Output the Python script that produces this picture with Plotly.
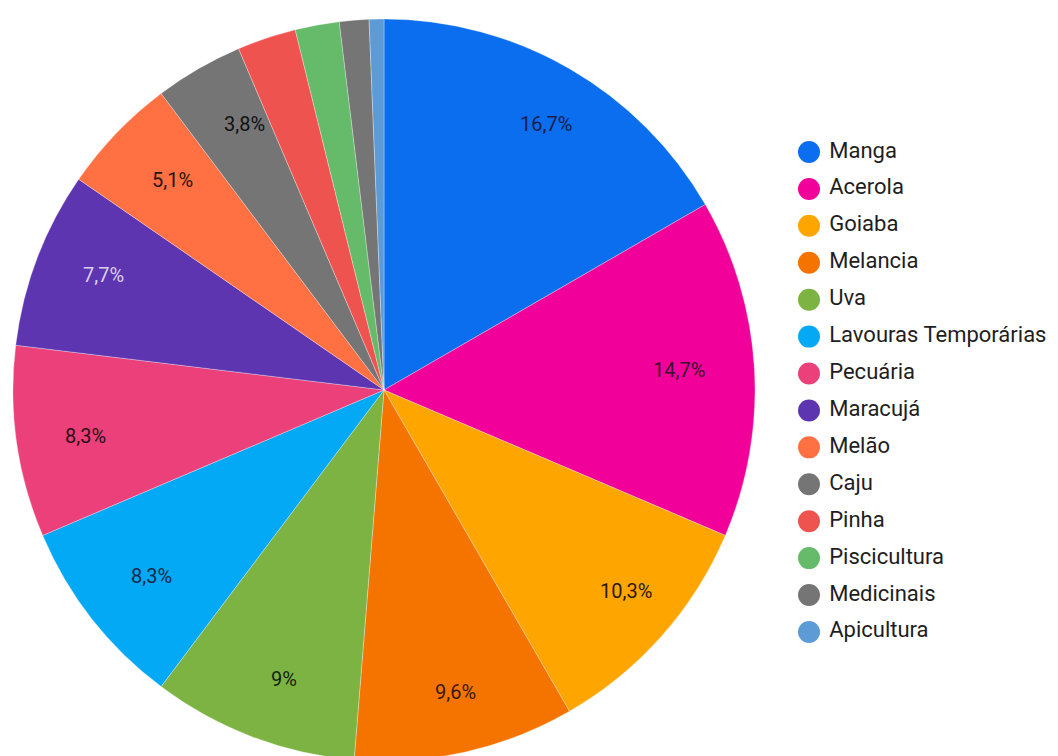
import math
import plotly.graph_objects as go

categories = ["Manga", "Acerola", "Goiaba", "Melancia", "Uva", "Lavouras Temporárias",
              "Pecuária", "Maracujá", "Melão", "Caju", "Pinha", "Piscicultura",
              "Medicinais", "Apicultura"]
counts = [26, 23, 16, 15, 14, 13, 13, 12, 8, 6, 4, 3, 2, 1]
slice_labels = ["16,7%", "14,7%", "10,3%", "9,6%", "9%", "8,3%", "8,3%", "7,7%",
                "5,1%", "3,8%", "", "", "", ""]
colors = ["#0A6EEE", "#F2009A", "#FFA500", "#F57400", "#7CB342", "#03A9F4",
          "#EC407A", "#5E35B1", "#FF7043", "#757575", "#EF5350", "#66BB6A",
          "#757575", "#5C9BD6"]
label_colors = ["#16204a", "#3a1030", "#2a1a08", "#3a1a10", "#13230c", "#0f2a48",
                "#2a0c18", "#D8D0EE", "#2a1208", "#111111", "#1a1a1a", "#1a1a1a",
                "#1a1a1a", "#1a1a1a"]

W, H = 1058, 762
cx, cy, R = 384, 390, 371
FONT = "Roboto"

fig = go.Figure()
fig.add_trace(go.Pie(
    labels=categories, values=counts, sort=False, direction="clockwise", rotation=0,
    marker=dict(colors=colors, line=dict(color="rgba(255,255,255,0.5)", width=0.6)),
    textinfo="none", hoverinfo="label+percent", showlegend=False,
    domain=dict(x=[(cx - R) / W, (cx + R) / W],
                y=[max(0, 1 - (cy + R) / H), 1 - (cy - R) / H]),
))

# slice labels placed along each slice's mid-angle
total = sum(counts)
cum = 0
for v, lab, col in zip(counts, slice_labels, label_colors):
    mid = (cum + v / 2) / total * 2 * math.pi
    cum += v
    if not lab:
        continue
    d = 0.873 * R
    px = cx + d * math.sin(mid)
    py = cy - d * math.cos(mid)
    fig.add_annotation(x=px / W, y=1 - py / H, xref="paper", yref="paper",
                       text=lab, showarrow=False,
                       font=dict(family=FONT, size=20, color=col))

# legend drawn as a marker column
idx = list(range(len(categories)))
fig.add_trace(go.Scatter(
    x=[26] * len(categories), y=idx, mode="markers+text",
    marker=dict(size=22, color=colors, symbol="circle"),
    text=["\u00a0" + c for c in categories], textposition="middle right",
    textfont=dict(family=FONT, size=22, color="#1e1e1e"),
    hoverinfo="skip", showlegend=False, cliponaxis=False,
))
step = 36.92
r0 = -152 / step
r1 = r0 + H / step
fig.update_layout(
    width=W, height=H, margin=dict(l=0, r=0, t=0, b=0),
    paper_bgcolor="white", plot_bgcolor="rgba(0,0,0,0)",
    font=dict(family=FONT),
    xaxis=dict(domain=[783 / W, 1], range=[0, W - 783], visible=False, fixedrange=True),
    yaxis=dict(domain=[0, 1], range=[r1, r0], visible=False, fixedrange=True),
)
fig.write_html(
    "out.html",
    config={"displayModeBar": False},
    post_script="document.body.style.margin='0';"
                "document.body.style.overflow='hidden';"
                "document.documentElement.style.overflow='hidden';",
)
